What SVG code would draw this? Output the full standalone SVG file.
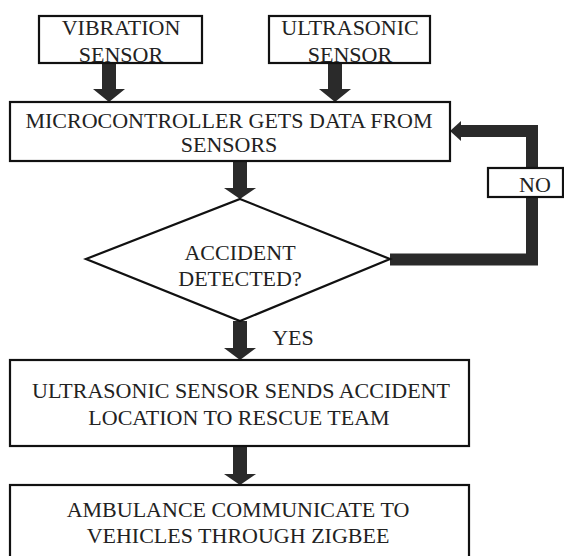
<svg xmlns="http://www.w3.org/2000/svg" width="564" height="556" viewBox="0 0 564 556" font-family="'Liberation Serif', 'DejaVu Serif', serif">
<style>
.box{fill:#fff;stroke:#111;stroke-width:2.2}
.t{font-size:22px;fill:#222;text-anchor:middle}
.arr{fill:#2a2a2a}
.fb{fill:none;stroke:#2a2a2a;stroke-width:12;stroke-linejoin:miter}
</style>
<rect width="564" height="556" fill="#fff"/>
<g id="connectors">
<polygon class="arr" points="102,63 116,63 116,89 125,89 109,102 93,89 102,89"/>
<polygon class="arr" points="328,63 342,63 342,89 351,89 335,102 319,89 328,89"/>
<polygon class="arr" points="233,161 247,161 247,188 256,188 240,199 224,188 233,188"/>
<polygon class="arr" points="233,321 247,321 247,348 256,348 240,360 224,348 233,348"/>
<polygon class="arr" points="233,446 247,446 247,474 256,474 240,485 224,474 233,474"/>
<polyline class="fb" points="390,259.5 532,259.5 532,131 459,131"/>
<polygon class="arr" points="461,121 461,141 450,131"/>
<text class="t" x="293" y="345">YES</text>
</g>
<g id="vibration">
<rect class="box" x="39" y="16" width="163" height="47"/>
<text class="t" x="121" y="35">VIBRATION</text>
<text class="t" x="121" y="62">SENSOR</text>
</g>
<g id="ultrasonic">
<rect class="box" x="269" y="16" width="161" height="47"/>
<text class="t" x="350" y="35">ULTRASONIC</text>
<text class="t" x="350" y="62">SENSOR</text>
</g>
<g id="micro">
<rect class="box" x="10" y="102" width="440" height="59"/>
<text class="t" x="229" y="128">MICROCONTROLLER GETS DATA FROM</text>
<text class="t" x="229" y="152">SENSORS</text>
</g>
<g id="no">
<rect class="box" x="488" y="168" width="75" height="29"/>
<text class="t" x="535" y="192">NO</text>
</g>
<g id="decision">
<polygon class="box" points="240,199 390,259 240,321 86,259"/>
<text class="t" x="240" y="260">ACCIDENT</text>
<text class="t" x="240" y="286">DETECTED?</text>
</g>
<g id="send">
<rect class="box" x="10" y="360" width="459" height="86"/>
<text class="t" x="241" y="398">ULTRASONIC SENSOR SENDS ACCIDENT</text>
<text class="t" x="239" y="425">LOCATION TO RESCUE TEAM</text>
</g>
<g id="ambulance">
<rect class="box" x="10" y="485" width="459" height="80"/>
<text class="t" x="238" y="517">AMBULANCE COMMUNICATE TO</text>
<text class="t" x="238" y="543">VEHICLES THROUGH ZIGBEE</text>
</g>
</svg>
